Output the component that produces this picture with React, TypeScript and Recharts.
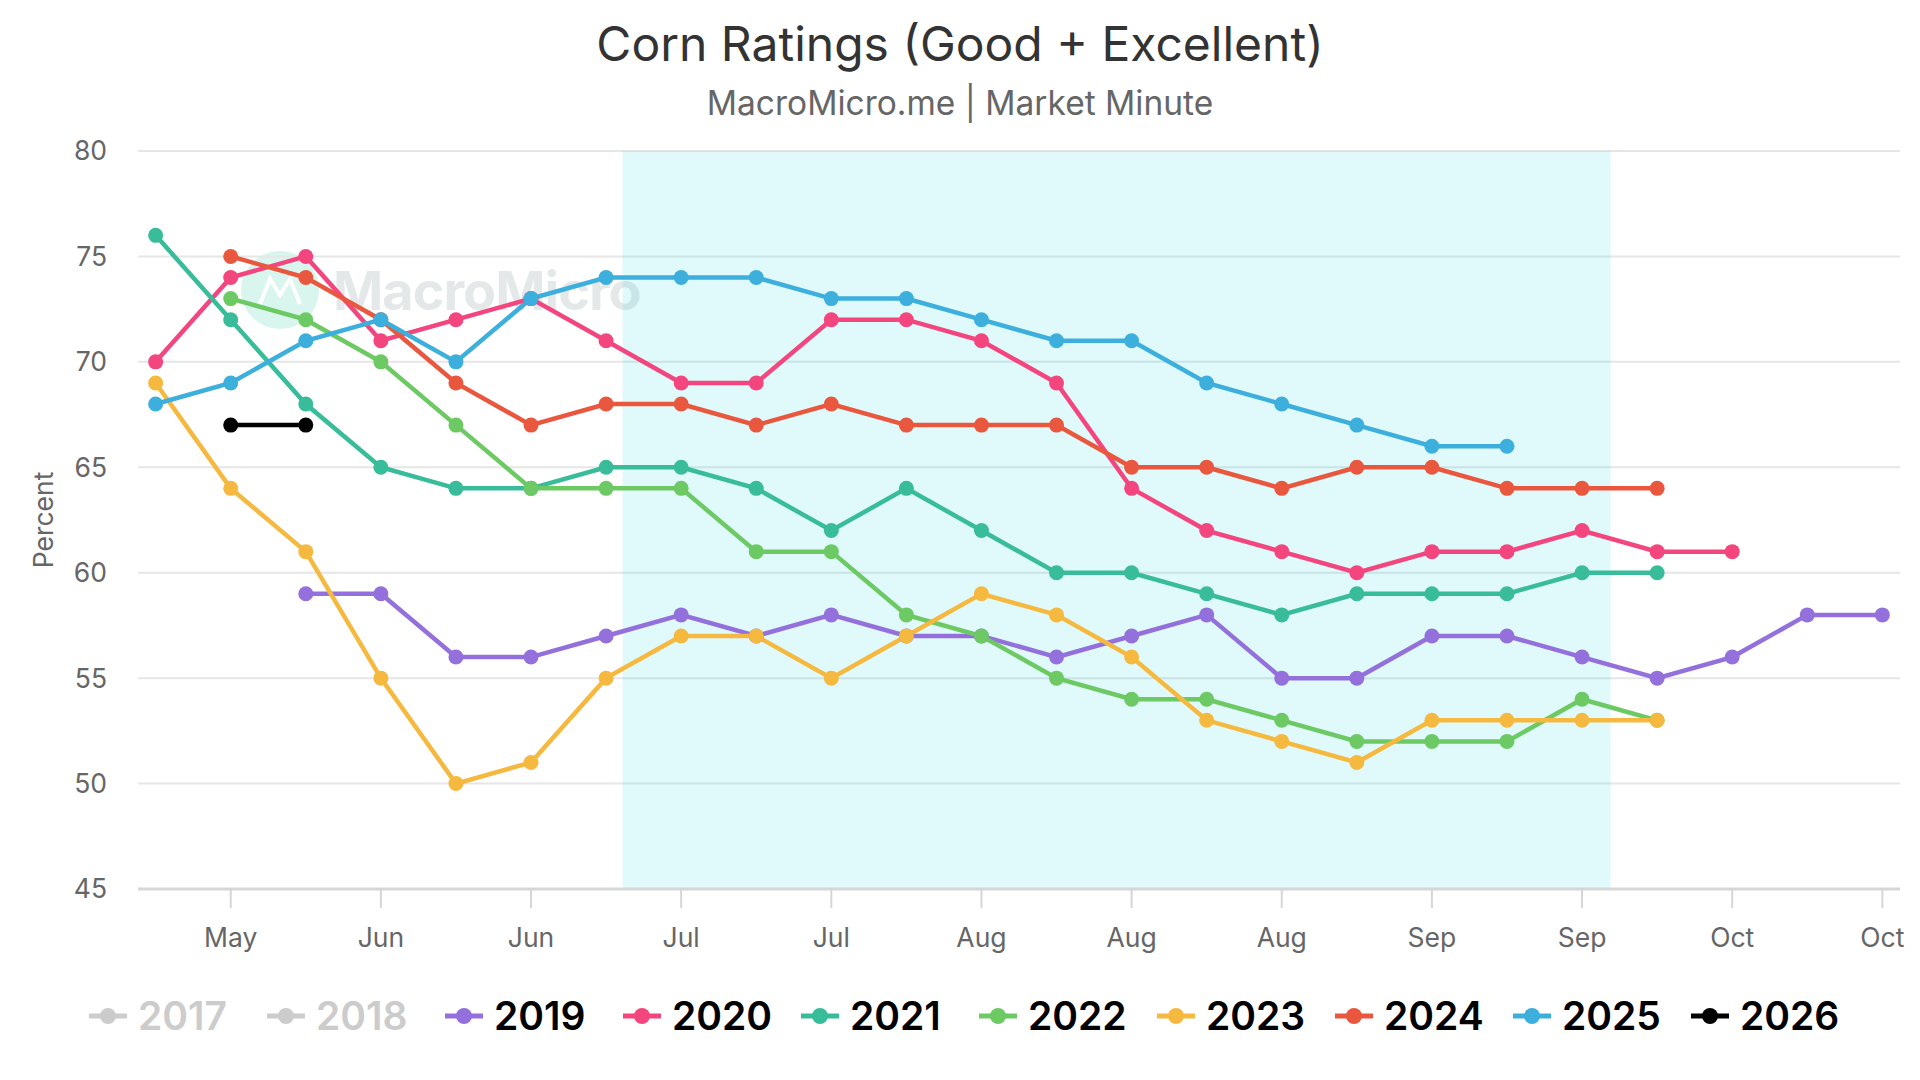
import React from 'react';
import { LineChart, Line, XAxis, YAxis, CartesianGrid, ReferenceArea } from 'recharts';

// weekly observations, index 0 = last week of April
const weekLabels = ['', 'May', '', 'Jun', '', 'Jun', '', 'Jul', '', 'Jul', '', 'Aug', '', 'Aug', '', 'Aug', '', 'Sep', '', 'Sep', '', 'Oct', '', 'Oct'];
const tickWeeks = [1, 3, 5, 7, 9, 11, 13, 15, 17, 19, 21, 23];
const yTicks = [45, 50, 55, 60, 65, 70, 75, 80];

const y2019 = [null, null, 59, 59, 56, 56, 57, 58, 57, 58, 57, 57, 56, 57, 58, 55, 55, 57, 57, 56, 55, 56, 58, 58];
const y2020 = [70, 74, 75, 71, 72, 73, 71, 69, 69, 72, 72, 71, 69, 64, 62, 61, 60, 61, 61, 62, 61, 61, null, null];
const y2021 = [76, 72, 68, 65, 64, 64, 65, 65, 64, 62, 64, 62, 60, 60, 59, 58, 59, 59, 59, 60, 60, null, null, null];
const y2022 = [null, 73, 72, 70, 67, 64, 64, 64, 61, 61, 58, 57, 55, 54, 54, 53, 52, 52, 52, 54, 53, null, null, null];
const y2023 = [69, 64, 61, 55, 50, 51, 55, 57, 57, 55, 57, 59, 58, 56, 53, 52, 51, 53, 53, 53, 53, null, null, null];
const y2024 = [null, 75, 74, 72, 69, 67, 68, 68, 67, 68, 67, 67, 67, 65, 65, 64, 65, 65, 64, 64, 64, null, null, null];
const y2025 = [68, 69, 71, 72, 70, 73, 74, 74, 74, 73, 73, 72, 71, 71, 69, 68, 67, 66, 66, null, null, null, null, null];
const y2026 = [null, 67, 67, null, null, null, null, null, null, null, null, null, null, null, null, null, null, null, null, null, null, null, null, null];

// growing-season band, in week units
const bandStart = 6.22;
const bandEnd = 19.38;

const series = [
  { key: 'y2019', name: '2019', color: '#9370db', values: y2019 },
  { key: 'y2020', name: '2020', color: '#f3467f', values: y2020 },
  { key: 'y2021', name: '2021', color: '#38bc9a', values: y2021 },
  { key: 'y2022', name: '2022', color: '#6dc963', values: y2022 },
  { key: 'y2023', name: '2023', color: '#f6b93f', values: y2023 },
  { key: 'y2024', name: '2024', color: '#e9573e', values: y2024 },
  { key: 'y2025', name: '2025', color: '#3dafdc', values: y2025 },
  { key: 'y2026', name: '2026', color: '#000000', values: y2026 },
];

const legendItems = [
  { name: '2017', color: '#cccccc', hidden: true },
  { name: '2018', color: '#cccccc', hidden: true },
  ...series.map((s) => ({ name: s.name, color: s.color, hidden: false })),
];

const data = weekLabels.map((_, i) => {
  const row: Record<string, number | null> = { week: i };
  series.forEach((s) => {
    row[s.key] = s.values[i];
  });
  return row;
});

const FONT = 'Inter, "Noto Sans", sans-serif';

// sits under the svg; the band is translucent so the text shows through it
const Watermark = () => (
  <div style={{ position: 'absolute', left: 241, top: 251, display: 'flex', alignItems: 'center' }}>
    <div style={{ width: 78, height: 78, borderRadius: '50%', background: '#d8f6ee', display: 'flex', alignItems: 'center', justifyContent: 'center' }}>
      <svg width="46" height="34" viewBox="0 0 46 34">
        <polyline points="3,31 13,6 23,22 33,6 43,31" fill="none" stroke="#ffffff" strokeWidth="4" />
      </svg>
    </div>
    <div style={{ marginLeft: 14, fontSize: 54, fontWeight: 700, color: '#e5e8e9', fontFamily: FONT, letterSpacing: -1 }}>MacroMicro</div>
  </div>
);

const App: React.FC = () => {
  return (
    <div style={{ position: 'absolute', left: 0, top: 0, width: 1920, height: 1080, background: '#ffffff', fontFamily: FONT, overflow: 'hidden' }}>
      <div style={{ position: 'absolute', top: 19, width: 1920, textAlign: 'center', fontSize: 48, lineHeight: '50px', color: '#333333' }}>
        Corn Ratings (Good + Excellent)
      </div>
      <div style={{ position: 'absolute', top: 85, width: 1920, textAlign: 'center', fontSize: 33.5, lineHeight: '36px', color: '#666666' }}>
        MacroMicro.me | Market Minute
      </div>
      <Watermark />
      <div style={{ position: 'absolute', left: 0, top: 0 }}>
        <LineChart
          width={1920}
          height={1080}
          data={data}
          margin={{ top: 151, right: 20, bottom: 151, left: 40 }}
          style={{ fontFamily: FONT }}
        >
          <CartesianGrid horizontal vertical={false} stroke="#e6e6e6" strokeWidth={2} />
          <ReferenceArea x1={bandStart} x2={bandEnd} y1={45} y2={80} fill="#00d4dc" fillOpacity={0.12} stroke="none" ifOverflow="hidden" />
          <XAxis
            type="number"
            dataKey="week"
            domain={[-0.235, 23.235]}
            ticks={tickWeeks}
            interval={0}
            allowDataOverflow
            tickFormatter={(v: number) => weekLabels[v]}
            height={40}
            tickSize={19}
            tickMargin={20}
            tick={{ fontSize: 26.5, fill: '#666666' }}
            tickLine={{ stroke: '#d6d6d6', strokeWidth: 2 }}
            axisLine={{ stroke: '#d6d6d6', strokeWidth: 3 }}
          />
          <YAxis
            domain={[45, 80]}
            ticks={yTicks}
            width={98}
            allowDataOverflow
            tickLine={false}
            axisLine={false}
            tickSize={6}
            tickMargin={25}
            tick={{ fontSize: 26.5, fill: '#666666' }}
            label={{
              content: () => (
                <text x={43} y={520} transform="rotate(-90 43 520)" textAnchor="middle" dominantBaseline="central" fontSize={26.5} fill="#666666" fontFamily={FONT}>
                  Percent
                </text>
              ),
            }}
          />
          {series.map((s) => (
            <Line
              key={s.key}
              type="linear"
              dataKey={s.key}
              name={s.name}
              stroke={s.color}
              strokeWidth={4.5}
              dot={{ r: 7.5, fill: s.color, stroke: s.color, strokeWidth: 0 }}
              activeDot={false}
              connectNulls={false}
              isAnimationActive={false}
            />
          ))}
        </LineChart>
      </div>
      <div style={{ position: 'absolute', left: 89, top: 994, height: 44 }}>
        {legendItems.map((item, i) => (
          <div key={item.name} style={{ position: 'absolute', left: i * 178, top: 0, height: 44, display: 'flex', alignItems: 'center' }}>
            <svg width={38} height={18} style={{ flexShrink: 0 }}>
              <line x1={0} y1={9} x2={38} y2={9} stroke={item.color} strokeWidth={5} />
              <circle cx={19} cy={9} r={8} fill={item.color} />
            </svg>
            <span style={{ marginLeft: 11, fontSize: 39, fontWeight: 600, lineHeight: '44px', whiteSpace: 'nowrap', color: item.hidden ? '#cccccc' : '#000000' }}>
              {item.name}
            </span>
          </div>
        ))}
      </div>
    </div>
  );
};

export default App;
